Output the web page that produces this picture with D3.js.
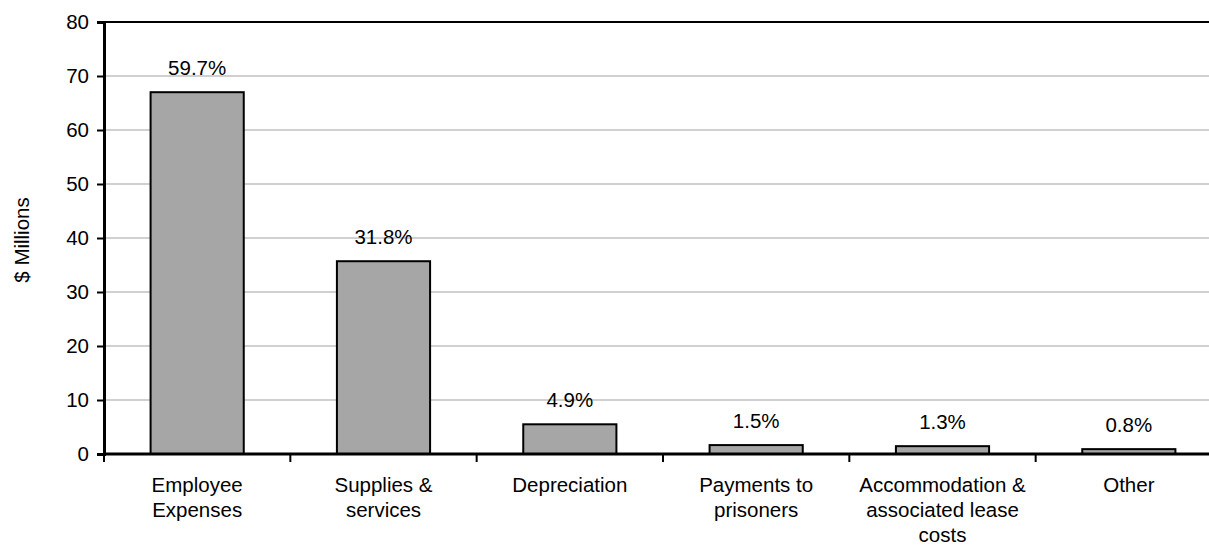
<!DOCTYPE html>
<html lang="en">
<head>
<meta charset="utf-8">
<title>Expenses by category</title>
<script src="https://cdn.jsdelivr.net/npm/d3@7"></script>
<style>
  body { margin: 0; background: #fff; font-family: 'Liberation Sans', Arial, sans-serif; }
  svg { display: block; }
</style>
</head>
<body>
<div id="chart"></div>
<script>

/* Data */
var categories = [
  ['Employee', 'Expenses'],
  ['Supplies &', 'services'],
  ['Depreciation'],
  ['Payments to', 'prisoners'],
  ['Accommodation &', 'associated lease', 'costs'],
  ['Other']
];
var values = [67.0, 35.7, 5.5, 1.65, 1.45, 0.9];
var shares = ['59.7%', '31.8%', '4.9%', '1.5%', '1.3%', '0.8%'];
var yTicks = [0, 10, 20, 30, 40, 50, 60, 70, 80];

/* Layout */
var width = 1209, height = 546;
var plotLeft = 104, plotTop = 22, plotBottom = 454;
var plotRight = 1222; // plot runs past the right edge of the picture
var fontSize = 20.5;

var svg = d3.select('#chart').append('svg')
    .attr('width', width)
    .attr('height', height);

var x = d3.scaleBand()
    .domain(d3.range(categories.length))
    .range([plotLeft, plotRight])
    .paddingInner(0.5)
    .paddingOuter(0.25);

var y = d3.scaleLinear()
    .domain([0, 80])
    .range([plotBottom, plotTop]);

// Gridlines
svg.append('g')
  .selectAll('line')
  .data(yTicks.filter(function(d) { return d > 0 && d < 80; }))
  .join('line')
    .attr('x1', plotLeft)
    .attr('x2', plotRight)
    .attr('y1', function(d) { return y(d); })
    .attr('y2', function(d) { return y(d); })
    .attr('stroke', '#c0c0c0')
    .attr('stroke-width', 1.3);

// Top border at 80
svg.append('line')
    .attr('x1', plotLeft).attr('x2', plotRight)
    .attr('y1', y(80)).attr('y2', y(80))
    .attr('stroke', '#000').attr('stroke-width', 2);

// Bars
svg.append('g')
  .selectAll('rect')
  .data(values)
  .join('rect')
    .attr('x', function(d, i) { return x(i); })
    .attr('y', function(d) { return y(d); })
    .attr('width', x.bandwidth())
    .attr('height', function(d) { return y(0) - y(d); })
    .attr('fill', '#a6a6a6')
    .attr('stroke', '#000')
    .attr('stroke-width', 2);

// Percentage labels
svg.append('g')
  .selectAll('text')
  .data(values)
  .join('text')
    .attr('x', function(d, i) { return x(i) + x.bandwidth() / 2; })
    .attr('y', function(d) { return y(d) - 17; })
    .attr('text-anchor', 'middle')
    .attr('font-size', fontSize)
    .attr('fill', '#000')
    .text(function(d, i) { return shares[i]; });

// Y axis
var yAxis = svg.append('g')
    .attr('transform', 'translate(' + plotLeft + ',0)')
    .call(d3.axisLeft(y).tickValues(yTicks).tickSize(7).tickPadding(8));
yAxis.select('.domain').attr('stroke', '#000').attr('stroke-width', 3);
yAxis.selectAll('.tick line').attr('stroke', '#000').attr('stroke-width', 2);
yAxis.selectAll('.tick text')
    .attr('font-family', "'Liberation Sans', Arial, sans-serif")
    .attr('font-size', fontSize)
    .attr('fill', '#000');

// X axis: ticks at category boundaries
var step = x.step();
var boundaries = d3.range(categories.length + 1).map(function(i) { return plotLeft + i * step; });

svg.append('line')
    .attr('x1', plotLeft - 1).attr('x2', plotRight)
    .attr('y1', plotBottom).attr('y2', plotBottom)
    .attr('stroke', '#000').attr('stroke-width', 3);

svg.append('g')
  .selectAll('line')
  .data(boundaries)
  .join('line')
    .attr('x1', function(d) { return d; })
    .attr('x2', function(d) { return d; })
    .attr('y1', plotBottom)
    .attr('y2', plotBottom + 8)
    .attr('stroke', '#000')
    .attr('stroke-width', 2);

// Category labels
var catLabels = svg.append('g')
  .selectAll('text')
  .data(categories)
  .join('text')
    .attr('x', function(d, i) { return x(i) + x.bandwidth() / 2; })
    .attr('y', 492)
    .attr('text-anchor', 'middle')
    .attr('font-size', fontSize)
    .attr('fill', '#000');

catLabels.selectAll('tspan')
  .data(function(d) { return d; })
  .join('tspan')
    .attr('x', function() { return d3.select(this.parentNode).attr('x'); })
    .attr('dy', function(d, i) { return i === 0 ? 0 : 25; })
    .text(function(d) { return d; });

// Y axis title
svg.append('text')
    .attr('transform', 'translate(29,240) rotate(-90)')
    .attr('text-anchor', 'middle')
    .attr('font-size', fontSize)
    .attr('fill', '#000')
    .text('$ Millions');

</script>
</body>
</html>
